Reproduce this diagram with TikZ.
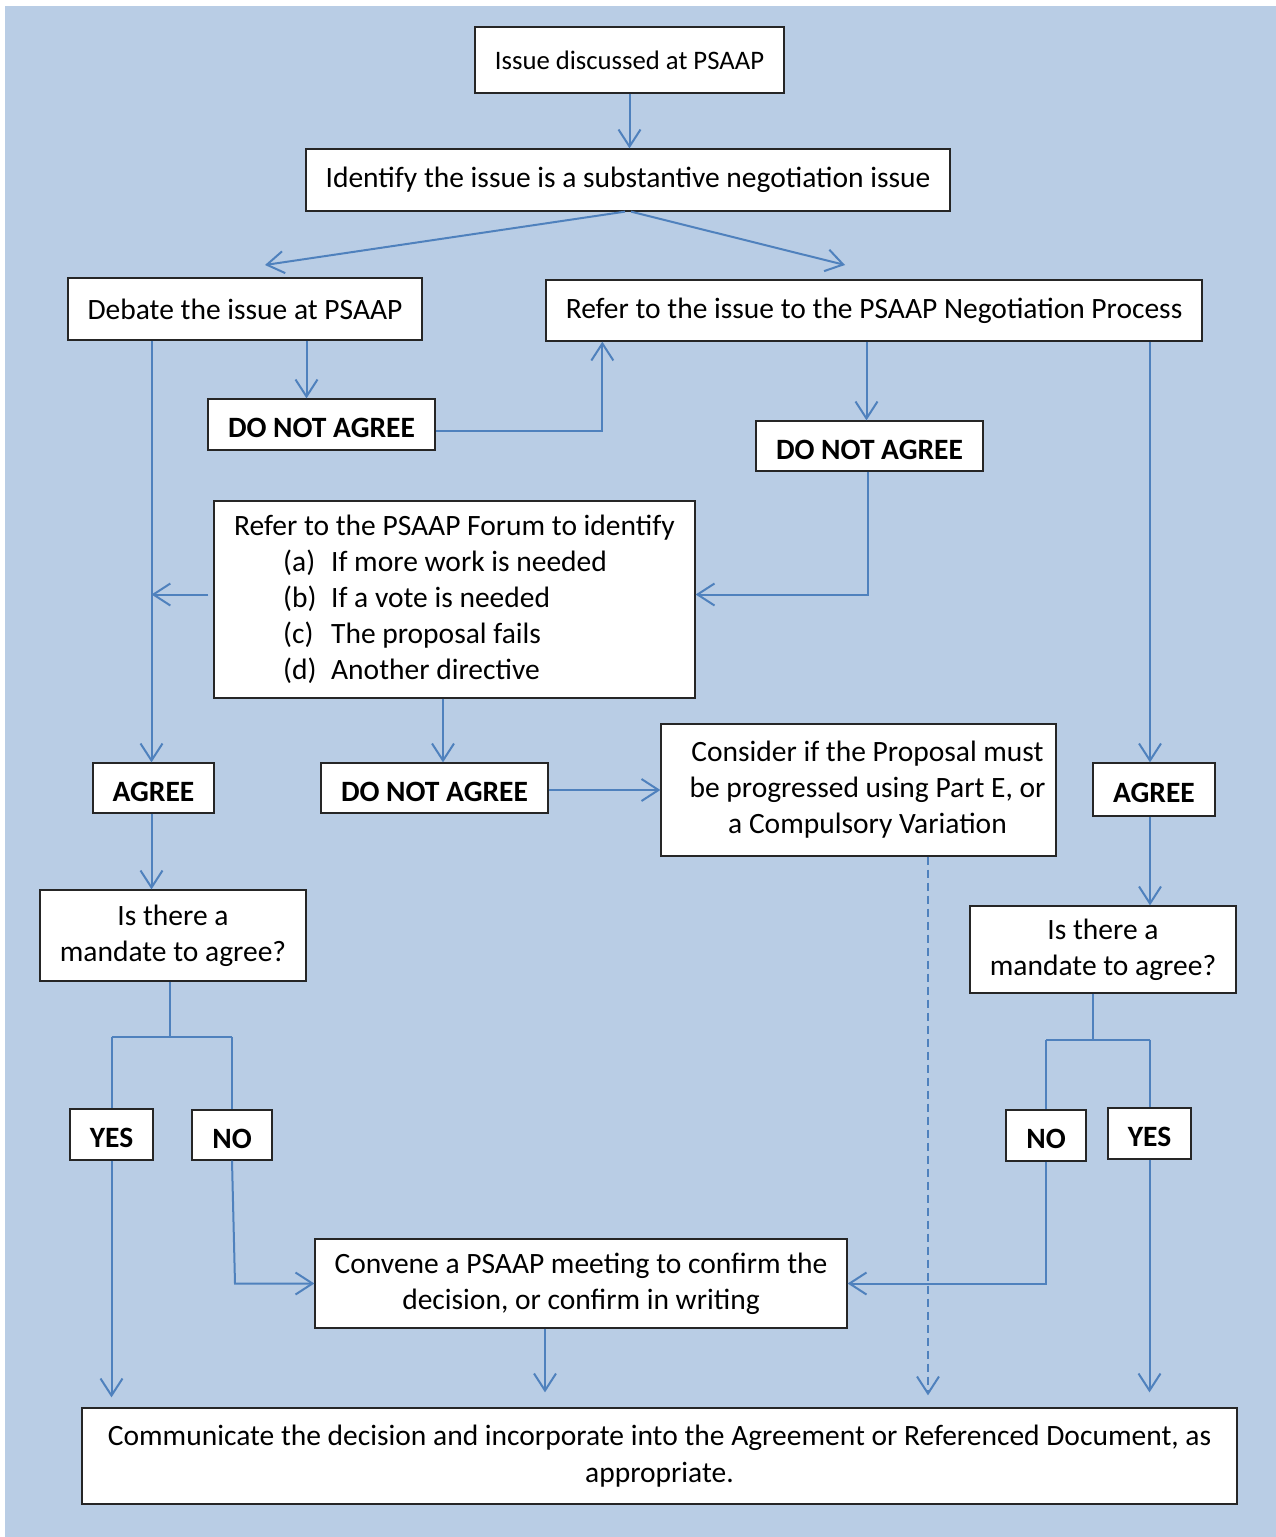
\documentclass[tikz,border=0pt]{standalone}
\usepackage{fontspec}
\setmainfont{Carlito}
\usetikzlibrary{arrows.meta,calc}
\definecolor{bgblue}{HTML}{B9CDE5}
\definecolor{lnblue}{HTML}{4F81BD}
\begin{document}
\begin{tikzpicture}[x=1pt,y=-1pt,
  box/.style={draw=black!85, line width=1.3pt, fill=white, inner sep=0pt, align=center,
    font=\fontsize{29.5}{36}\selectfont},
  lbl/.style={box, font=\fontsize{29.5}{36}\selectfont\bfseries, text height=26pt, text depth=0pt},
  conn/.style={draw=lnblue, line width=2pt},
  arr/.style={conn, -{Straight Barb[length=17pt,width=22pt,line width=2pt]}},
  dsh/.style={arr, dash pattern=on 8pt off 5pt}
]
\useasboundingbox (0,0) rectangle (1276,1537);
\fill[white] (0,0) rectangle (1276,1537);
\fill[bgblue] (5,6) rectangle (1276,1537);

% nodes
\node[box, font=\fontsize{26.7}{32}\selectfont, minimum width=309, minimum height=66] (issue) at (629.5,60) {Issue discussed at PSAAP};
\node[box, minimum width=644, minimum height=62] (ident) at (628,180) {Identify the issue is a substantive negotiation issue};
\node[box, minimum width=354, minimum height=62] (debate) at (245,309) {Debate the issue at PSAAP};
\node[box, minimum width=656, minimum height=61] (refer) at (874,310.5) {Refer to the issue to the PSAAP Negotiation Process};
\node[lbl, minimum width=227, minimum height=51] (dna1) at (321.5,424.5) {DO NOT AGREE};
\node[lbl, minimum width=227, minimum height=50] (dna2) at (869.5,446) {DO NOT AGREE};
\node[box, align=left, inner xsep=20, minimum width=481, minimum height=197] (forum) at (454.5,599.5)
  {Refer to the PSAAP Forum to identify\\
   \hspace*{49pt}\makebox[48pt][l]{(a)}If more work is needed\\
   \hspace*{49pt}\makebox[48pt][l]{(b)}If a vote is needed\\
   \hspace*{49pt}\makebox[48pt][l]{(c)}The proposal fails\\
   \hspace*{49pt}\makebox[48pt][l]{(d)}Another directive};
\node[lbl, minimum width=121, minimum height=50] (agreeL) at (153.5,788) {AGREE};
\node[lbl, minimum width=227, minimum height=50] (dna3) at (434.5,788) {DO NOT AGREE};
\node[box, minimum width=395, minimum height=132] (consider) at (858.5,790)
  {\hspace*{18pt}\begin{tabular}{@{}c@{}}Consider if the Proposal must\\ be progressed using Part E, or\\ a Compulsory Variation\end{tabular}};
\node[lbl, minimum width=122, minimum height=53] (agreeR) at (1154,789.5) {AGREE};
\node[box, minimum width=266, minimum height=91] (mandL) at (173,935.5) {Is there a\\ mandate to agree?};
\node[box, minimum width=266, minimum height=87] (mandR) at (1103,949.5) {Is there a\\ mandate to agree?};
\node[lbl, minimum width=83, minimum height=51] (yesL) at (111.5,1134.5) {YES};
\node[lbl, minimum width=80, minimum height=50] (noL) at (232,1135) {NO};
\node[lbl, minimum width=80, minimum height=51] (noR) at (1046,1135.5) {NO};
\node[lbl, minimum width=83, minimum height=51] (yesR) at (1149.5,1133.5) {YES};
\node[box, minimum width=532, minimum height=89] (convene) at (581,1283.5) {Convene a PSAAP meeting to confirm the\\ decision, or confirm in writing};
\node[box, font=\fontsize{29.5}{37}\selectfont, minimum width=1155, minimum height=96] (comm) at (659.5,1456)
  {Communicate the decision and incorporate into the Agreement or Referenced Document, as\\ appropriate.};

% free ends
\coordinate (dbIn) at (265,265);
\coordinate (rfIn) at (845,265);

% connectors
\draw[arr] (issue.south) -- (issue.south |- ident.north);
\draw[arr] ([xshift=-3]ident.south) -- (dbIn);
\draw[arr] ([xshift=3]ident.south) -- (rfIn);
\draw[arr] ([xshift=-2]agreeL.north |- debate.south) -- ([xshift=-2]agreeL.north);
\draw[arr] ([xshift=-15]dna1.north |- debate.south) -- ([xshift=-15]dna1.north);
\draw[arr] ([yshift=-6]dna1.east) -| ([xshift=57]refer.south west);
\draw[arr] ([xshift=-3]dna2.north |- refer.south) -- ([xshift=-3]dna2.north);
\draw[arr] ([xshift=-4]agreeR.north |- refer.south) -- ([xshift=-4]agreeR.north);
\draw[arr] ([xshift=-2]dna2.south) |- ([yshift=5]forum.east);
\draw[arr] ([xshift=-5,yshift=5]forum.west) -- ([xshift=-2,yshift=5]forum.west -| agreeL.north);
\draw[arr] ([xshift=8.5]dna3.north |- forum.south) -- ([xshift=8.5]dna3.north);
\draw[arr] ([yshift=-2]dna3.east) -- ([yshift=-2]consider.west |- dna3.east);
\draw[arr] ([xshift=-2]agreeL.south) -- ([xshift=-2]agreeL.south |- mandL.north);
\draw[arr] ([xshift=-4]agreeR.south) -- ([xshift=-4]agreeR.south |- mandR.north);
% left tree
\draw[conn] ([xshift=-3]mandL.south) -- ++(0,55) coordinate (mL);
\draw[conn] (yesL.north |- mL) -- (noL.north |- mL);
\draw[conn] (yesL.north |- mL) -- (yesL.north);
\draw[conn] (noL.north |- mL) -- (noL.north);
% right tree
\draw[conn] ([xshift=-10]mandR.south) -- ++(0,46) coordinate (mR);
\draw[conn] (noR.north |- mR) -- (yesR.north |- mR);
\draw[conn] (noR.north |- mR) -- (noR.north);
\draw[conn] (yesR.north |- mR) -- (yesR.north);
% to bottom
\draw[arr] (yesL.south) -- ([yshift=10]yesL.south |- comm.north);
\draw[arr] (noL.south) -- ([xshift=3]noL.south |- convene.west) -- (convene.west);
\draw[arr] (noR.south) |- (convene.east);
\draw[arr] (yesR.south) -- ([yshift=15]yesR.south |- comm.north);
\draw[arr] ([xshift=-36]convene.south) -- ([xshift=-36,yshift=15]convene.south |- comm.north);
\draw[dsh] ([xshift=69.5]consider.south) -- ([xshift=69.5,yshift=12]consider.south |- comm.north);
\end{tikzpicture}
\end{document}
